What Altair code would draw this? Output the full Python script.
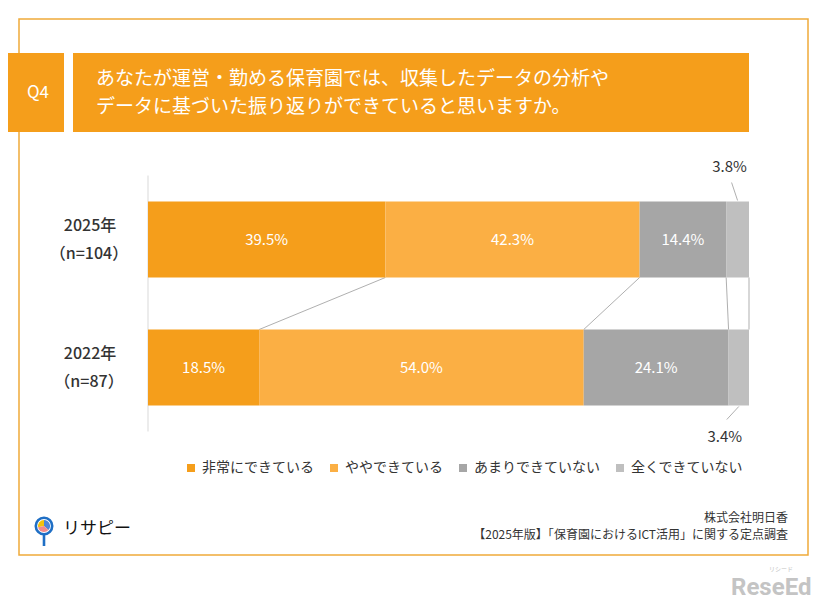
import altair as alt
import pandas as pd

# ---------------- data ----------------
ROWS = ["2025年", "2022年"]
ROW_N = ["（n=104）", "（n=87）"]
CATEGORIES = ["非常にできている", "ややできている", "あまりできていない", "全くできていない"]
COLORS = ["#F59E1B", "#FBAF44", "#A6A6A6", "#BFBFBF"]
VALUES_2025 = [39.5, 42.3, 14.4, 3.8]
VALUES_2022 = [18.5, 54.0, 24.1, 3.4]
TITLE_Q = "Q4"
TITLE_LINES = ["あなたが運営・勤める保育園では、収集したデータの分析や",
               "データに基づいた振り返りができていると思いますか。"]
SOURCE_LINES = ["株式会社明日香", "【2025年版】「保育園におけるICT活用」に関する定点調査"]
LOGO_TEXT = "リサピー"
WATERMARK = "ReseEd"
WATERMARK_SUB = "リシード"

FONT = "Noto Sans CJK JP"
ORANGE = "#F59E1B"
FRAME = "#F0AA3A"
TEXT = "#333333"


def P(v):
    # page pixel -> plot pixel (page has 8px margin, padding 0)
    return v - 8


# ---------------- tables ----------------
recs = []
cums = {}
for row, vals in zip(ROWS, [VALUES_2025, VALUES_2022]):
    cum = 0.0
    ends = []
    for cat, v in zip(CATEGORIES, vals):
        recs.append(dict(row=row, cat=cat, value=v, start=cum, end=cum + v,
                         mid=cum + v / 2, label=f"{v:.1f}%"))
        cum = round(cum + v, 6)
        ends.append(cum)
    cums[row] = ends
bars_df = pd.DataFrame(recs)

conn_df = pd.DataFrame({
    "top": cums[ROWS[0]],
    "bot": cums[ROWS[1]],
    "row_top": [ROWS[0]] * len(CATEGORIES),
    "row_bot": [ROWS[1]] * len(CATEGORIES),
})

rowlab_df = pd.DataFrame({"row": ROWS, "year": ROWS, "n": ROW_N})
one = pd.DataFrame({"k": [0]})

# ---------------- scales ----------------
XS = alt.Scale(domain=[0, 100], range=[P(148), P(749)])
YS = alt.Scale(domain=ROWS, range=[P(175.5), P(431.5)], paddingInner=0.40625, paddingOuter=0.203125)


def X(f):
    return alt.X(f, type="quantitative", scale=XS, axis=None)


def Y(f):
    return alt.Y(f, type="nominal", scale=YS, axis=None)


def line_text(s, x, y, size, color, align="left", weight=400, font=FONT):
    return alt.Chart(one).mark_text(font=font, fontSize=size, color=color, align=align,
                                    baseline="middle", fontWeight=weight).encode(
        x=alt.value(x), y=alt.value(y), text=alt.value(s))


# ---------------- decorations ----------------
frame = alt.Chart(one).mark_rect(fillOpacity=0, stroke=FRAME, strokeWidth=1.5).encode(
    x=alt.value(P(19)), x2=alt.value(P(808)), y=alt.value(P(19)), y2=alt.value(P(555)))

qbox = alt.Chart(one).mark_rect(color=ORANGE).encode(
    x=alt.value(P(4)), x2=alt.value(P(64)), y=alt.value(P(53)), y2=alt.value(P(132)))
tbox = alt.Chart(one).mark_rect(color=ORANGE).encode(
    x=alt.value(P(73)), x2=alt.value(P(749)), y=alt.value(P(53)), y2=alt.value(P(132)))

qtext = line_text(TITLE_Q, P(38), P(93), 17, "white", align="center")
ttext1 = line_text(TITLE_LINES[0], P(96), P(79), 19, "white")
ttext2 = line_text(TITLE_LINES[1], P(96), P(106.5), 19, "white")

axis_line = alt.Chart(one).mark_rule(color="#D9D9D9", strokeWidth=1).encode(
    x=alt.datum(0, type="quantitative", scale=XS, axis=None),
    y=alt.value(P(175.5)), y2=alt.value(P(431.5)))

# ---------------- data marks ----------------
connectors = alt.Chart(conn_df).mark_rule(color="#A6A6A6", strokeWidth=0.9,
                                          yOffset=38, y2Offset=-38).encode(
    x=X("top"), x2=alt.X2("bot"), y=Y("row_top"), y2=alt.Y2("row_bot"))

bars = alt.Chart(bars_df).mark_bar().encode(
    x=X("start"), x2=alt.X2("end"), y=Y("row"),
    color=alt.Color("cat:N", scale=alt.Scale(domain=CATEGORIES, range=COLORS),
                    legend=alt.Legend(orient="none", legendX=P(184), legendY=P(461),
                                      direction="horizontal", columns=4, title=None,
                                      symbolType="square", symbolSize=64,
                                      symbolStrokeWidth=0, labelFont=FONT,
                                      labelFontSize=14, labelColor=TEXT,
                                      labelOffset=4, columnPadding=13, labelLimit=0)),
)

bar_labels = alt.Chart(bars_df).transform_filter(
    f"datum.cat != '{CATEGORIES[-1]}'").mark_text(
    font=FONT, fontSize=15, color="white", align="center", baseline="middle").encode(
    x=X("mid"), y=Y("row"), text="label:N")

last25 = f"datum.cat == '{CATEGORIES[-1]}' && datum.row == '{ROWS[0]}'"
last22 = f"datum.cat == '{CATEGORIES[-1]}' && datum.row == '{ROWS[1]}'"

lead25 = alt.Chart(bars_df).transform_filter(last25).mark_rule(
    color="#A6A6A6", strokeWidth=0.9, xOffset=-6, x2Offset=0, yOffset=-57, y2Offset=-39).encode(
    x=X("mid"), x2=alt.X2("mid"), y=Y("row"), y2=alt.Y2("row"))
lab25 = alt.Chart(bars_df).transform_filter(last25).mark_text(
    font=FONT, fontSize=15, color=TEXT, align="center", baseline="middle", dx=-8, dy=-73).encode(
    x=X("mid"), y=Y("row"), text="label:N")

lead22 = alt.Chart(bars_df).transform_filter(last22).mark_rule(
    color="#A6A6A6", strokeWidth=0.9, xOffset=0, x2Offset=-12, yOffset=39, y2Offset=52).encode(
    x=X("mid"), x2=alt.X2("mid"), y=Y("row"), y2=alt.Y2("row"))
lab22 = alt.Chart(bars_df).transform_filter(last22).mark_text(
    font=FONT, fontSize=15, color=TEXT, align="center", baseline="middle", dx=-14, dy=69).encode(
    x=X("mid"), y=Y("row"), text="label:N")

row_year = alt.Chart(rowlab_df).mark_text(
    font=FONT, fontSize=16, fontWeight=500, color=TEXT, align="center", baseline="middle",
    dy=-14).encode(x=alt.value(P(90)), y=Y("row"), text="year:N")
row_n = alt.Chart(rowlab_df).mark_text(
    font=FONT, fontSize=16, fontWeight=500, color=TEXT, align="center", baseline="middle",
    dy=14).encode(x=alt.value(P(89)), y=Y("row"), text="n:N")

# ---------------- footer ----------------
BLUE = "#1F6FC5"
ring = alt.Chart(one).mark_point(shape="circle", size=270, filled=False, stroke=BLUE,
                                 strokeWidth=2.6, opacity=1).encode(
    x=alt.value(P(44)), y=alt.value(P(526)))
stem = alt.Chart(one).mark_rule(color=BLUE, strokeWidth=2.6).encode(
    x=alt.value(P(44)), y=alt.value(P(534.5)), y2=alt.value(P(546)))
pie_y = alt.Chart(one).mark_arc(theta=4.5, theta2=6.2832, outerRadius=6, color="#F4C20D").encode(
    x=alt.value(P(44)), y=alt.value(P(526)))
pie_b = alt.Chart(one).mark_arc(theta=0, theta2=2.3, outerRadius=6, color="#4F86D9").encode(
    x=alt.value(P(44)), y=alt.value(P(526)))
pie_p = alt.Chart(one).mark_arc(theta=2.3, theta2=4.5, outerRadius=6, color="#F28B8B").encode(
    x=alt.value(P(44)), y=alt.value(P(526)))
logo_text = line_text(LOGO_TEXT, P(63), P(529), 17, "#111111")

source1 = line_text(SOURCE_LINES[0], P(788), P(518), 12, TEXT, align="right")
source2 = line_text(SOURCE_LINES[1], P(788), P(535), 12, TEXT, align="right")

wm = line_text(WATERMARK, P(731), P(588), 24, "#C4C4C4", weight="bold", font="Roboto")
wm_sub = line_text(WATERMARK_SUB, P(781), P(569), 6, "#C4C4C4", align="center")

chart = alt.layer(
    frame, qbox, tbox, qtext, ttext1, ttext2, axis_line, connectors, bars, bar_labels,
    lead25, lab25, lead22, lab22, row_year, row_n,
    ring, pie_y, pie_b, pie_p, stem, logo_text, source1, source2, wm, wm_sub,
).properties(
    width=810, height=596, padding=0,
    autosize=alt.AutoSizeParams(type="none"),
    background="white",
).configure_view(stroke=None)

chart.save("out.html", embed_options={"renderer": "svg", "actions": False})
